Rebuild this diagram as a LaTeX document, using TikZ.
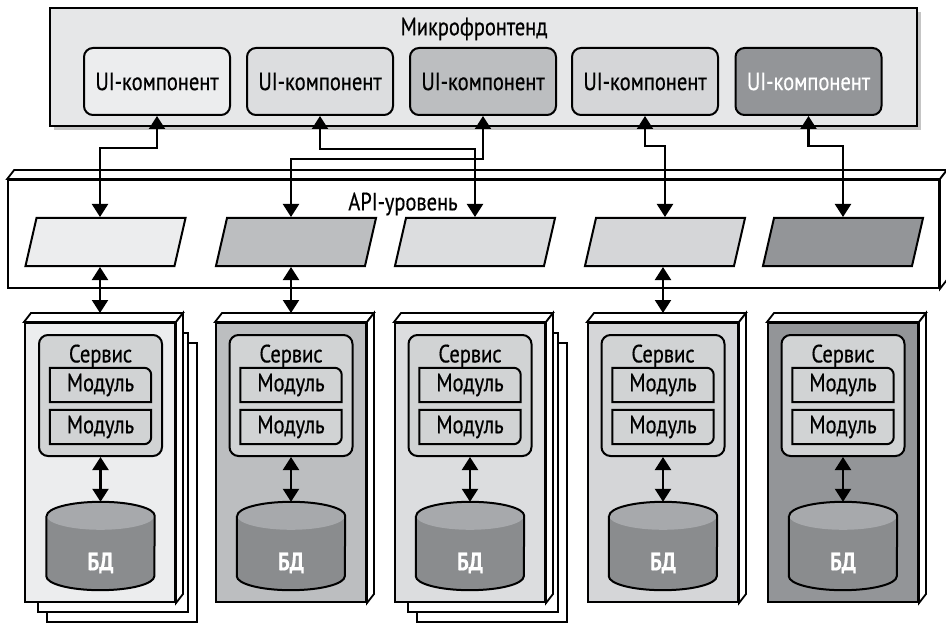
\documentclass[tikz,border=0pt]{standalone}
\usepackage{fontspec}
\setmainfont{PT Sans}[FakeStretch=0.82, FakeBold=0.5]
\usetikzlibrary{arrows.meta,shadows}
\definecolor{mfgray}{HTML}{E6E7E8}
\definecolor{shadeA}{HTML}{ECEDEE}
\definecolor{shadeB}{HTML}{BCBEC0}
\definecolor{shadeC}{HTML}{DCDDDF}
\definecolor{shadeD}{HTML}{D5D6D8}
\definecolor{shadeE}{HTML}{939598}
\definecolor{srvgray}{HTML}{D1D3D4}
\definecolor{dbbody}{HTML}{8A8C8E}
\definecolor{dbtop}{HTML}{A7A9AC}

% top and right face of a box node
\newcommand{\boxfaces}[1]{%
  \draw[face] (#1.north west) -- ++(7,-9) -- ([shift={(7,-9)}]#1.north east) -- (#1.north east) -- cycle;
  \draw[face] (#1.north east) -- ++(7,-9) -- ([shift={(7,-9)}]#1.south east) -- (#1.south east) -- cycle;}
% module outlines with one round corner
\newcommand{\modtop}[1]{\draw[modline] (#1.south west) -- (#1.north west) -- ([xshift=-7pt]#1.north east) arc[start angle=90, end angle=0, radius=7pt] -- (#1.south east) -- cycle;}
\newcommand{\modbot}[1]{\draw[modline] (#1.south west) -- (#1.north west) -- (#1.north east) -- ([yshift=7pt]#1.south east) arc[start angle=0, end angle=-90, radius=7pt] -- cycle;}
% database drum in a db node
\newcommand{\drum}[1]{%
  \fill[dbbody] ([yshift=-14pt]#1.north west) -- ([yshift=14pt]#1.south west) arc[start angle=180, end angle=360, x radius=54pt, y radius=14pt] -- ([yshift=-14pt]#1.north east) -- cycle;
  \fill[dbtop] ([yshift=-14pt]#1.north) ellipse[x radius=54pt, y radius=14pt];
  \draw[modline] ([yshift=-14pt]#1.north west) -- ([yshift=14pt]#1.south west) arc[start angle=180, end angle=360, x radius=54pt, y radius=14pt] -- ([yshift=-14pt]#1.north east) arc[start angle=0, end angle=180, x radius=54pt, y radius=14pt];}

\begin{document}
\begin{tikzpicture}[x=1pt, y=-1pt,
  every node/.style={font=\fontsize{25}{29}\selectfont},
  mfbox/.style={draw, line width=2pt, fill=mfgray, minimum width=867pt, minimum height=118pt, drop shadow={shadow xshift=4pt, shadow yshift=-4pt, fill=black!45}},
  uibox/.style={draw, line width=2pt, rounded corners=9pt, minimum width=146pt, minimum height=67pt},
  apibox/.style={draw, line width=1.8pt, fill=white, minimum width=931pt, minimum height=108pt},
  face/.style={draw, line width=1.8pt, fill=white},
  apiform/.style={draw, line width=2pt, minimum width=149pt, minimum height=48pt, inner sep=0pt, xslant=0.23, transform shape},
  colbox/.style={draw, line width=2pt, minimum width=150pt, minimum height=279pt},
  sheet/.style={draw, line width=1.8pt, fill=white, minimum width=150pt, minimum height=279pt},
  srv/.style={draw, line width=2pt, rounded corners=9pt, fill=srvgray, minimum width=123pt, minimum height=121pt},
  modbox/.style={fill=srvgray, minimum width=101pt, minimum height=34pt, inner sep=0pt},
  modline/.style={line width=2pt},
  db/.style={minimum width=108pt, minimum height=88pt, inner sep=0pt},
  dblabel/.style={text=white, font=\fontsize{25}{29}\selectfont\bfseries},
  arrow/.style={{Triangle[width=16pt,length=13pt]}-{Triangle[width=16pt,length=13pt]}, line width=2.2pt}
]
\useasboundingbox (0,0) rectangle (946,623);

% microfrontend
\node[mfbox] (mf) at (483.5,67) {};
\node (mft) at (474,29) {Микрофронтенд};
\node[uibox, fill=shadeA] (ui1) at (157,81.5) {UI-компонент};
\node[uibox, fill=shadeC] (ui2) at (320,81.5) {UI-компонент};
\node[uibox, fill=shadeB] (ui3) at (483,81.5) {UI-компонент};
\node[uibox, fill=shadeD] (ui4) at (645,81.5) {UI-компонент};
\node[uibox, fill=shadeE, text=white] (ui5) at (808.5,81.5) {UI-компонент};

% API level
\node[apibox] (api) at (473.5,234) {};
\boxfaces{api}
\node (apit) at (403,204) {API-уровень};
\node[apiform, fill=shadeA] (p1) at (105.5,242) {};
\node[apiform, fill=shadeB] (p2) at (296,242) {};
\node[apiform, fill=shadeC] (p3) at (475,242) {};
\node[apiform, fill=shadeD] (p4) at (665,242) {};
\node[apiform, fill=shadeE] (p5) at (843,242) {};

% services
\node[sheet] (c1b) at (122,482.5) {};
\node[sheet] (c1a) at (113,472.5) {};
\node[colbox, fill=shadeA] (c1) at (100,462.5) {};
\boxfaces{c1}
\node[colbox, fill=shadeB] (c2) at (291,462.5) {};
\boxfaces{c2}
\node[sheet] (c3b) at (492,482.5) {};
\node[sheet] (c3a) at (483,472.5) {};
\node[colbox, fill=shadeC] (c3) at (470,462.5) {};
\boxfaces{c3}
\node[colbox, fill=shadeD] (c4) at (663,462.5) {};
\boxfaces{c4}
\node[colbox, fill=shadeE] (c5) at (843,462.5) {};
\boxfaces{c5}

\node[srv] (s1) at (100.5,395.5) {};
\node (s1t) at (100.5,356) {Сервис};
\node[modbox] (m1a) at (100.5,385) {Модуль};
\node[modbox] (m1b) at (100.5,427) {Модуль};
\modtop{m1a} \modbot{m1b}
\node[db] (d1) at (100.5,546) {};
\drum{d1}
\node[dblabel] (d1t) at (100.5,563) {БД};

\node[srv] (s2) at (291,395.5) {};
\node (s2t) at (291,356) {Сервис};
\node[modbox] (m2a) at (291,385) {Модуль};
\node[modbox] (m2b) at (291,427) {Модуль};
\modtop{m2a} \modbot{m2b}
\node[db] (d2) at (291,546) {};
\drum{d2}
\node[dblabel] (d2t) at (291,563) {БД};

\node[srv] (s3) at (470,395.5) {};
\node (s3t) at (470,356) {Сервис};
\node[modbox] (m3a) at (470,385) {Модуль};
\node[modbox] (m3b) at (470,427) {Модуль};
\modtop{m3a} \modbot{m3b}
\node[db] (d3) at (470,546) {};
\drum{d3}
\node[dblabel] (d3t) at (470,563) {БД};

\node[srv] (s4) at (663,395.5) {};
\node (s4t) at (663,356) {Сервис};
\node[modbox] (m4a) at (663,385) {Модуль};
\node[modbox] (m4b) at (663,427) {Модуль};
\modtop{m4a} \modbot{m4b}
\node[db] (d4) at (663,546) {};
\drum{d4}
\node[dblabel] (d4t) at (663,563) {БД};

\node[srv] (s5) at (843,395.5) {};
\node (s5t) at (843,356) {Сервис};
\node[modbox] (m5a) at (843,385) {Модуль};
\node[modbox] (m5b) at (843,427) {Модуль};
\modtop{m5a} \modbot{m5b}
\node[db] (d5) at (843,546) {};
\drum{d5}
\node[dblabel] (d5t) at (843,563) {БД};

% connectors
\draw[arrow] (ui1.south) -- ++(0,32) -| (p1.north -| c1.north);
\draw[arrow] (ui2.south) -- ++(0,33) -| (p3.north -| p3.center);
\draw[arrow] (ui3.south) -- ++(0,43) -| (p2.north -| c2.north);
\draw[arrow] (ui4.south) -- ++(0,30) -| (p4.north -| p4.center);
\draw[arrow] (ui5.south) -- ++(0,30) -| (p5.north -| p5.center);
\draw[arrow] (p1.south -| c1.north) -- ([yshift=9pt]c1.north);
\draw[arrow] (p2.south -| c2.north) -- ([yshift=9pt]c2.north);
\draw[arrow] (p4.south -| c4.north) -- ([yshift=9pt]c4.north);
\draw[arrow] (s1) -- (d1);
\draw[arrow] (s2) -- (d2);
\draw[arrow] (s3) -- (d3);
\draw[arrow] (s4) -- (d4);
\draw[arrow] (s5) -- (d5);
\end{tikzpicture}
\end{document}
